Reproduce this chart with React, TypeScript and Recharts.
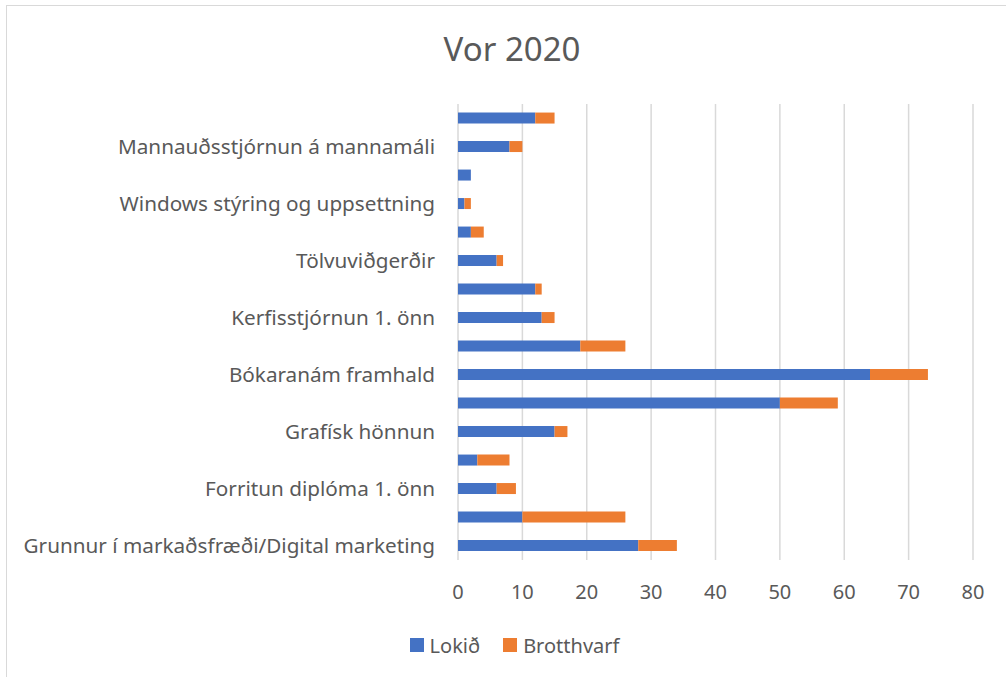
import React from 'react';
import { BarChart, Bar, XAxis, YAxis, CartesianGrid, Legend } from 'recharts';

// categories listed bottom-first, as Excel draws them
const categories = [
  'Grunnur í markaðsfræði/Digital marketing',
  '',
  'Forritun diplóma 1. önn',
  '',
  'Grafísk hönnun',
  '',
  'Bókaranám framhald',
  '',
  'Kerfisstjórnun 1. önn',
  '',
  'Tölvuviðgerðir',
  '',
  'Windows stýring og uppsettning',
  '',
  'Mannauðsstjórnun á mannamáli',
  '',
];

const lokid = [28, 10, 6, 3, 15, 50, 64, 19, 13, 12, 6, 2, 1, 2, 8, 12];
const brotthvarf = [6, 16, 3, 5, 2, 9, 9, 7, 2, 1, 1, 2, 1, 0, 2, 3];
const xTicks = [0, 10, 20, 30, 40, 50, 60, 70, 80];

const data = categories.map((name, i) => ({
  name,
  lokid: lokid[i],
  brotthvarf: brotthvarf[i],
}));

const FONT = '"Noto Sans", "Open Sans", sans-serif';
const TEXT = '#595959';
const BLUE = '#4472C4';
const ORANGE = '#ED7D31';

const LegendBox = () => (
  <div
    style={{
      display: 'flex',
      justifyContent: 'center',
      alignItems: 'center',
      height: 30,
      paddingLeft: 56,
      fontFamily: FONT,
      fontSize: 20,
      color: TEXT,
    }}
  >
    <span style={{ width: 14, height: 14, background: BLUE, marginRight: 6 }} />
    <span style={{ marginRight: 23 }}>Lokið</span>
    <span style={{ width: 14, height: 14, background: ORANGE, marginRight: 6 }} />
    <span>Brotthvarf</span>
  </div>
);

const App = () => {
  return (
    <div style={{ position: 'fixed', left: 0, top: 0, width: 1006, height: 677, background: '#fff' }}>
      <div
        style={{
          position: 'absolute',
          left: 6,
          top: 5,
          width: 1000,
          height: 672,
          borderTop: '1.5px solid #d9d9d9',
          borderLeft: '1.5px solid #d9d9d9',
          boxSizing: 'border-box',
        }}
      />
      <div
        style={{
          position: 'absolute',
          left: 12,
          width: 1000,
          top: 26,
          textAlign: 'center',
          fontFamily: FONT,
          fontSize: 33,
          color: TEXT,
          lineHeight: '46px',
        }}
      >
        Vor 2020
      </div>
      <div style={{ position: 'absolute', left: 0, top: 0 }}>
        <BarChart
          width={1006}
          height={677}
          data={data}
          layout="vertical"
          barCategoryGap="30%"
          margin={{ top: 104, right: 33, left: 0, bottom: 17 }}
        >
          <CartesianGrid horizontal={false} stroke="#d9d9d9" strokeWidth={1.5} />
          <XAxis
            type="number"
            domain={[0, 80]}
            ticks={xTicks}
            axisLine={false}
            tickLine={false}
            tickSize={0}
            tickMargin={25}
            height={70}
            tick={{ fill: TEXT, fontSize: 20, fontFamily: FONT }}
          />
          <YAxis
            type="category"
            dataKey="name"
            reversed
            interval={0}
            width={458}
            axisLine={false}
            tickLine={false}
            tickSize={0}
            tickMargin={23}
            tick={{ fill: TEXT, fontSize: 20.7, fontFamily: FONT }}
          />
          <Legend verticalAlign="bottom" content={<LegendBox />} />
          <Bar dataKey="lokid" name="Lokið" stackId="a" fill={BLUE} isAnimationActive={false} />
          <Bar dataKey="brotthvarf" name="Brotthvarf" stackId="a" fill={ORANGE} isAnimationActive={false} />
        </BarChart>
      </div>
    </div>
  );
};

export default App;
